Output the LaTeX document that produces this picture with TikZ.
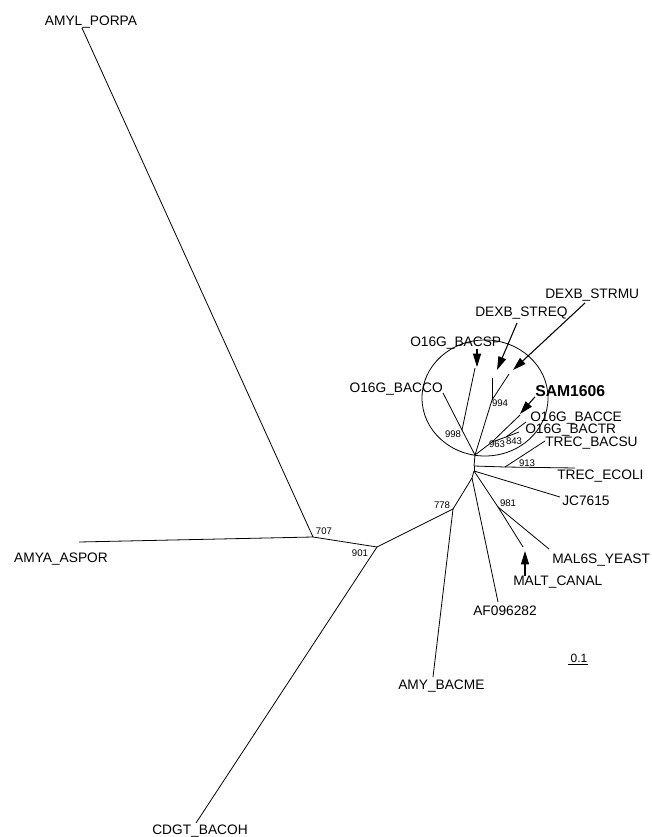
\documentclass[tikz,border=0pt]{standalone}
\usepackage{fontspec}
\setmainfont{Liberation Sans}
\usetikzlibrary{arrows.meta}

\begin{document}
\begin{tikzpicture}[x=0.75pt,y=-0.75pt]
        %estilos
        \tikzset{
            rama/.style={line width=0.6pt},
            hoja/.style={font=\fontsize{10.3}{12}\selectfont, inner sep=0pt},
            boot/.style={font=\fontsize{7.2}{9}\selectfont, inner sep=0pt},
            flecha/.style={line width=0.8pt, -{Triangle[length=10pt,width=6pt]}}
        }
        \useasboundingbox (0,0) rectangle (651,837);

        % Nodos internos
        \coordinate (n707) at (313,537);
        \coordinate (n901) at (377,547);
        \coordinate (n778) at (453,509);
        \coordinate (h4) at (472,478);
        \coordinate (h3) at (474,471);
        \coordinate (h2) at (474,466);
        \coordinate (h1) at (475,455);
        \coordinate (n998) at (462,430);
        \coordinate (n994) at (492,400);
        \coordinate (n963) at (492,442);
        \coordinate (n843) at (506,437);
        \coordinate (n913) at (505,467);
        \coordinate (n981) at (498,507);

        % Extremos de las hojas
        \coordinate (porpa) at (82,28);
        \coordinate (aspor) at (79,542);
        \coordinate (bacoh) at (196,823);
        \coordinate (bacme) at (433,677);
        \coordinate (af) at (498,602);
        \coordinate (canal) at (523,547);
        \coordinate (yeast) at (549,549);
        \coordinate (jc) at (560,497);
        \coordinate (ecoli) at (575,468);
        \coordinate (bacsu) at (545,441);
        \coordinate (bactr) at (519,432);
        \coordinate (bacce) at (526,422);
        \coordinate (sam) at (520,415);
        \coordinate (streq) at (492,378);
        \coordinate (strmu) at (509,374);
        \coordinate (bacsp) at (475,368);
        \coordinate (bacco) at (443,393);

        % Ramas
        \foreach \a/\b in {porpa/n707, aspor/n707, n707/n901, n901/bacoh, n901/n778,
                n778/bacme, n778/h4, h4/af, h4/h3, h3/h2, h2/h1, h3/jc, h3/n981,
                n981/canal, n981/yeast, h2/n913, n913/ecoli, n913/bacsu,
                h1/n998, n998/bacco, n998/bacsp, h1/n994, n994/streq, n994/strmu,
                h1/n963, n963/sam, n963/n843, n843/bacce, n843/bactr}
            \draw[rama] (\a) -- (\b);

        % Circulo
        \draw[rama] (485,398) ellipse [x radius=63, y radius=58];

        % Nombres
        \node[hoja] (lporpa) at (91,22) {AMYL\_PORPA};
        \node[hoja] (laspor) at (61,559) {AMYA\_ASPOR};
        \node[hoja] (lbacoh) at (200,831) {CDGT\_BACOH};
        \node[hoja, anchor=west] (lbacme) at (398,686) {AMY\_BACME};
        \node[hoja] (laf) at (505,611) {AF096282};
        \node[hoja, anchor=west] (lcanal) at (513,582) {MALT\_CANAL};
        \node[hoja, anchor=west] (lyeast) at (552,560) {MAL6S\_YEAST};
        \node[hoja, anchor=west] (ljc) at (562,501) {JC7615};
        \node[hoja, anchor=west] (lecoli) at (557,476) {TREC\_ECOLI};
        \node[hoja, anchor=west] (lbacsu) at (545,443) {TREC\_BACSU};
        \node[hoja, anchor=west] (lbactr) at (525,430) {O16G\_BACTR};
        \node[hoja, anchor=west] (lbacce) at (530,418) {O16G\_BACCE};
        \node[hoja, anchor=west, font=\fontsize{11.8}{14}\selectfont\bfseries] (lsam) at (535,391) {SAM1606};
        \node[hoja, anchor=west] (lstrmu) at (545,295) {DEXB\_STRMU};
        \node[hoja, anchor=west] (lstreq) at (475,313) {DEXB\_STREQ};
        \node[hoja, anchor=west] (lbacsp) at (410,343) {O16G\_BACSP};
        \node[hoja, anchor=east] (lbacco) at (443,389) {O16G\_BACCO};

        % Flechas
        \coordinate (tbacsp) at (477,367);
        \coordinate (tstreq) at (497,370);
        \coordinate (tstrmu) at (513,370);
        \coordinate (tsam) at (520,414);
        \coordinate (tcanal) at (525,551);
        \draw[flecha] (lbacsp.south -| tbacsp) -- (tbacsp);
        \draw[flecha] (517,323) -- (tstreq);
        \draw[flecha] (585,303) -- (tstrmu);
        \draw[flecha] (lsam.south west) -- (tsam);
        \draw[flecha] (lcanal.north -| tcanal) -- (tcanal);

        % Valores de bootstrap
        \foreach \x/\y/\v in {324/531/707, 360/553/901, 442/505/778, 508/503/981,
                527/463/913, 497/444/963, 514/441/843, 500/403/994, 453/434/998}
            \node[boot] (b\v) at (\x,\y) {\v};

        % Escala
        \node[hoja, font=\fontsize{9}{11}\selectfont] (escala) at (579,658) {0.1};
        \draw[rama] (escala.south west) ++(-2,2) coordinate (e1) -- (e1 -| escala.south east) ++(2,0);
\end{tikzpicture}
\end{document}
